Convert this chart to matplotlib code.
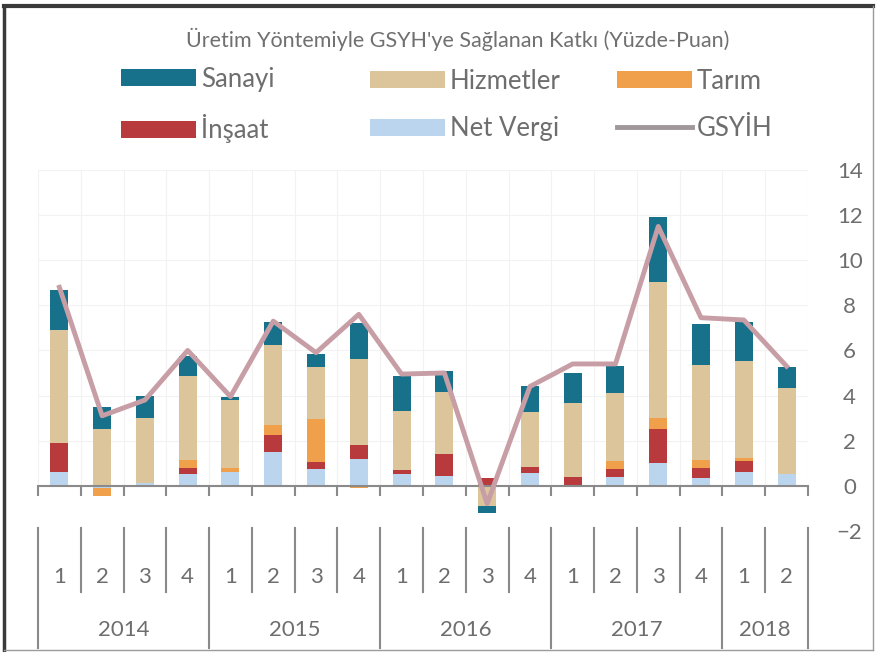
import numpy as np
import matplotlib
matplotlib.use('Agg')
import matplotlib.pyplot as plt
from matplotlib.lines import Line2D

plt.rcParams['font.family'] = ['Lato', 'DejaVu Sans']

# Data (percentage points), 2014Q1 .. 2018Q2
quarters = ['1', '2', '3', '4'] * 4 + ['1', '2']
years = ['2014', '2015', '2016', '2017', '2018']
year_sizes = [4, 4, 4, 4, 2]

net_vergi = [0.6, -0.1, 0.1, 0.5, 0.6, 1.5, 0.75, 1.2, 0.5, 0.45, 0.0, 0.55, 0.0, 0.4, 1.0, 0.35, 0.6, 0.5]
insaat = [1.3, 0.0, 0.0, 0.3, 0.0, 0.75, 0.3, 0.6, 0.2, 0.95, 0.35, 0.3, 0.4, 0.35, 1.5, 0.45, 0.5, 0.0]
tarim = [0.0, -0.35, 0.0, 0.35, 0.2, 0.45, 1.9, -0.1, 0.0, 0.0, 0.0, 0.0, 0.0, 0.35, 0.5, 0.35, 0.15, 0.0]
hizmetler = [5.0, 2.5, 2.9, 3.7, 3.0, 3.55, 2.3, 3.8, 2.6, 2.75, -0.9, 2.4, 3.25, 3.0, 6.05, 4.2, 4.3, 3.85]
sanayi = [1.8, 1.0, 1.0, 0.9, 0.15, 1.0, 0.6, 1.6, 1.55, 0.95, -0.3, 1.15, 1.35, 1.2, 2.85, 1.8, 1.7, 0.9]
gsyih = [8.8, 3.1, 3.8, 6.0, 3.95, 7.3, 5.9, 7.6, 4.95, 5.0, -0.8, 4.4, 5.4, 5.4, 11.5, 7.45, 7.35, 5.3]

series = [
    ('Net Vergi', net_vergi, '#bcd5ee'),
    ('İnşaat', insaat, '#b83a3d'),
    ('Tarım', tarim, '#f0a04b'),
    ('Hizmetler', hizmetler, '#dcc59a'),
    ('Sanayi', sanayi, '#17718a'),
]

grey = '#6e6e6e'
x = np.arange(len(quarters))

fig = plt.figure(figsize=(8.77, 6.52), dpi=100)
ax = fig.add_axes([0.0433, 0.0061, 0.878, 0.7331])

# stacked bars, positives and negatives stacked separately
pos_bottom = np.zeros(len(x))
neg_bottom = np.zeros(len(x))
handles = {}
for name, vals, col in series:
    v = np.array(vals)
    bottom = np.where(v >= 0, pos_bottom, neg_bottom)
    b = ax.bar(x, v, width=0.42, bottom=bottom, color=col, zorder=2)
    handles[name] = b
    pos_bottom += np.where(v > 0, v, 0)
    neg_bottom += np.where(v < 0, v, 0)

ax.plot(x, gsyih, color='#c89ea6', lw=3.5, zorder=3, solid_joinstyle='round')
handles['GSYİH'] = Line2D([], [], color='#a0979a', lw=3.5)

ax.set_xlim(-0.5, len(x) - 0.5)
ax.set_ylim(-7.2, 14)

# y axis on the right, no tick marks
ax.yaxis.tick_right()
ax.set_yticks(np.arange(-2, 15, 2))
ax.tick_params(axis='y', length=0, pad=30, labelsize=16, labelcolor=grey)
for lab in ax.get_yticklabels():
    lab.set_ha('center')

# x axis at zero with ticks between categories
for s in ['left', 'right', 'top']:
    ax.spines[s].set_visible(False)
ax.spines['bottom'].set_position(('data', 0))
ax.spines['bottom'].set_color('#8a8a8a')
ax.spines['bottom'].set_linewidth(1.5)
ax.set_xticks(np.arange(-0.5, len(x), 1.0))
ax.tick_params(axis='x', direction='out', length=7, width=1.5, color='#8a8a8a', labelbottom=False)

# faint grid
for yv in np.arange(2, 15, 2):
    ax.axhline(yv, color='#f2f2f2', lw=0.8, zorder=0)
for xv in np.arange(-0.5, len(x), 1.0):
    ax.plot([xv, xv], [0, 14], color='#f2f2f2', lw=0.8, zorder=0)

# multi level category labels
sep_top, q_bottom = -1.87, -4.7
year_edges = np.concatenate([[0], np.cumsum(year_sizes)]) - 0.5
for i, q in enumerate(quarters):
    ax.text(x[i], -4.05, q, ha='center', va='center', fontsize=16, color=grey)
for xv in np.arange(0.5, len(x) - 1, 1.0):
    if xv not in year_edges:
        ax.plot([xv, xv], [sep_top, q_bottom], color='#8a8a8a', lw=1.5, clip_on=False)
for xv in year_edges:
    ax.plot([xv, xv], [sep_top, -7.2], color='#8a8a8a', lw=1.5, clip_on=False)
for i, yr in enumerate(years):
    ax.text((year_edges[i] + year_edges[i + 1]) / 2, -6.4, yr, ha='center', va='center',
            fontsize=16, color=grey)

# title
fig.text(0.522, 0.939, "Üretim Yöntemiyle GSYH'ye Sağlanan Katkı (Yüzde-Puan)", ha='center', va='center',
         fontsize=15.5, color='#707070')

# legend in three columns
cols = [(0.138, ['Sanayi', 'İnşaat']), (0.422, ['Hizmetler', 'Net Vergi']), (0.704, ['Tarım', 'GSYİH'])]
for xpos, names in cols:
    hs = [handles[n] for n in names]
    fig.legend(hs, names, loc='center left', bbox_to_anchor=(xpos, 0.839), frameon=False,
               fontsize=18.5, labelcolor=grey, handlelength=2.9, handleheight=0.65,
               handletextpad=0.2, labelspacing=0.88, borderpad=0, borderaxespad=0)

# scanned frame
fig.add_artist(Line2D([0.004, 0.996], [0.991, 0.991], color='#3a3a3a', lw=3))
fig.add_artist(Line2D([0.005, 0.005], [0.003, 0.991], color='#3a3a3a', lw=2.5))
fig.add_artist(Line2D([0.995, 0.995], [0.003, 0.991], color='#9a9a9a', lw=1))
fig.add_artist(Line2D([0.004, 0.996], [0.003, 0.003], color='#9a9a9a', lw=1))

fig.savefig('out.png', dpi=100)
